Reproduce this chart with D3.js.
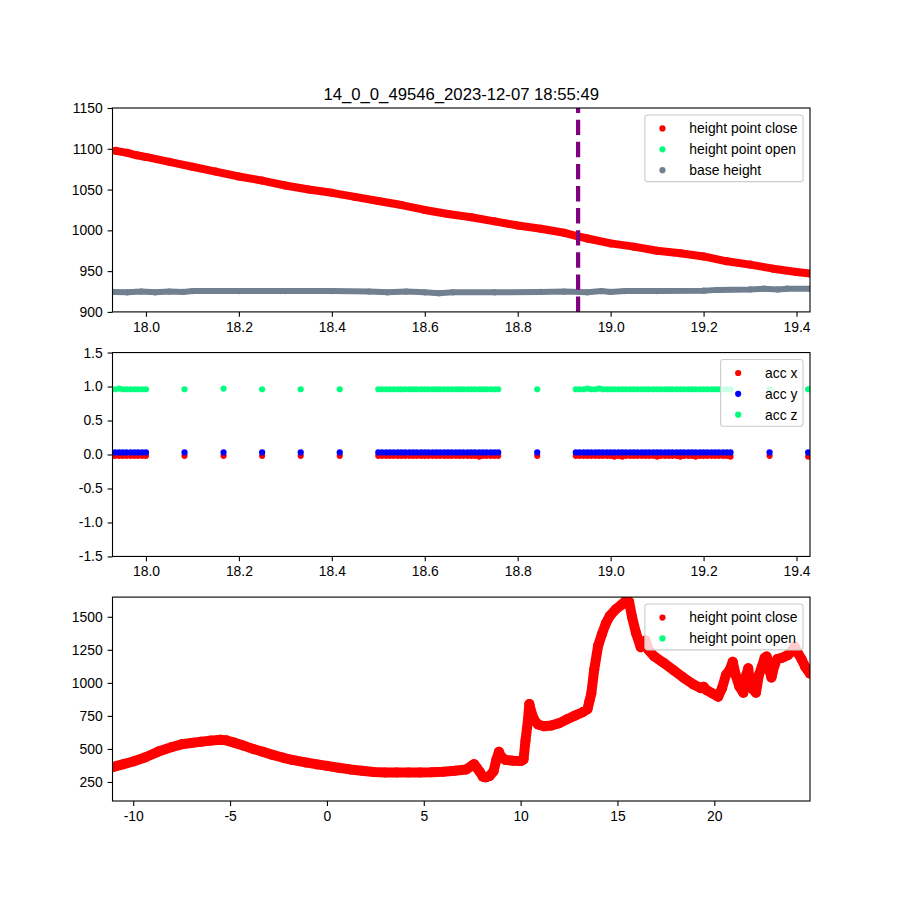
<!DOCTYPE html>
<html><head><meta charset="utf-8">
<script src="https://cdn.jsdelivr.net/npm/d3@7"></script>
<style>
body{margin:0;background:#fff}
svg{display:block}
text{font-family:"Liberation Sans",Arial,Helvetica,sans-serif;fill:#000}
</style>
</head><body><div id="chart"></div>
<script>
// ---------------- DATA ----------------
const chartTitle = "14_0_0_49546_2023-12-07 18:55:49";

// top panel
const topT   = [17.935,17.96,17.98,18.00,18.05,18.10,18.15,18.20,18.25,18.30,18.35,18.40,18.45,18.50,18.55,18.60,18.65,18.70,18.75,18.80,18.85,18.90,18.93,18.95,19.00,19.05,19.10,19.15,19.20,19.25,19.30,19.35,19.40,19.43];
const closeH = [1097.5,1095,1092,1090,1084,1078,1072,1066,1061,1055,1050,1046,1041,1036,1031,1025,1020,1016,1011,1006,1002,997,992.5,990,984,980,975,972,968,962,958,953,949,947];
const baseT  = [17.93,17.96,17.99,18.02,18.05,18.08,18.10,18.20,18.30,18.40,18.48,18.52,18.56,18.60,18.63,18.66,18.75,18.85,18.90,18.95,18.98,19.00,19.03,19.10,19.20,19.23,19.30,19.33,19.36,19.38,19.43];
const baseH  = [924.5,924,925,924,925,924.5,925.5,925.5,925.5,925.5,925,924,925,924,923,924,924,924.5,925,924,925.5,924.5,925.5,925.5,926,927,927.5,928.5,927.5,928.5,928.5];
const markerTime = 18.93;
const topYTicks  = [900,950,1000,1050,1100,1150];
const timeTicks  = [18.0,18.2,18.4,18.6,18.8,19.0,19.2,19.4];

// middle panel
const accT = [17.933,17.942,17.950,17.958,17.967,17.975,17.983,17.992,18.000,
  18.083,18.167,18.250,18.333,18.417,
  18.500,18.508,18.517,18.525,18.533,18.542,18.550,18.558,18.567,18.575,18.583,18.592,18.600,18.608,18.617,18.625,
  18.633,18.642,18.650,18.658,18.667,18.675,18.683,18.692,18.700,18.708,18.717,18.725,18.733,18.742,18.750,18.758,
  18.842,
  18.925,18.933,18.942,18.950,18.958,18.967,18.975,18.983,18.992,19.000,19.008,19.017,19.025,19.033,19.042,19.050,
  19.058,19.067,19.075,19.083,19.092,19.100,19.108,19.117,19.125,19.133,19.142,19.150,19.158,19.167,19.175,19.183,
  19.192,19.200,19.208,19.217,19.225,19.233,19.242,19.250,19.258,
  19.342,19.425];
const accX = [-0.02,-0.02,-0.02,-0.02,-0.02,-0.02,-0.02,-0.02,-0.02,
  -0.02,-0.02,-0.02,-0.02,-0.02,
  -0.02,-0.02,-0.02,-0.02,-0.02,-0.02,-0.02,-0.02,-0.02,-0.02,-0.02,-0.02,-0.02,-0.02,-0.02,-0.02,
  -0.02,-0.02,-0.02,-0.02,-0.02,-0.02,-0.02,-0.02,-0.02,-0.02,-0.03,-0.02,-0.02,-0.02,-0.02,-0.02,
  -0.02,
  -0.02,-0.02,-0.02,-0.02,-0.02,-0.02,-0.02,-0.02,-0.02,-0.02,-0.03,-0.02,-0.03,-0.02,-0.02,-0.02,
  -0.02,-0.02,-0.02,-0.02,-0.02,-0.03,-0.02,-0.02,-0.02,-0.02,-0.02,-0.03,-0.02,-0.02,-0.02,-0.03,
  -0.02,-0.02,-0.02,-0.02,-0.02,-0.02,-0.02,-0.02,-0.03,
  -0.02,-0.03];
const accY = [0.03,0.03,0.03,0.03,0.03,0.03,0.03,0.03,0.03,
  0.03,0.03,0.03,0.03,0.03,
  0.03,0.03,0.03,0.03,0.03,0.03,0.03,0.03,0.03,0.03,0.03,0.03,0.03,0.03,0.03,0.03,
  0.03,0.03,0.03,0.03,0.03,0.03,0.03,0.03,0.03,0.03,0.03,0.03,0.03,0.03,0.03,0.03,
  0.03,
  0.03,0.03,0.03,0.03,0.03,0.03,0.03,0.03,0.03,0.03,0.03,0.03,0.03,0.03,0.03,0.03,
  0.03,0.03,0.03,0.03,0.03,0.03,0.03,0.03,0.03,0.03,0.03,0.03,0.03,0.03,0.03,0.03,
  0.03,0.03,0.03,0.03,0.03,0.03,0.03,0.03,0.03,
  0.03,0.03];
const accZ = [0.96,0.97,0.96,0.96,0.96,0.96,0.96,0.96,0.96,
  0.96,0.97,0.96,0.96,0.96,
  0.96,0.96,0.96,0.96,0.96,0.96,0.96,0.96,0.96,0.96,0.96,0.96,0.96,0.96,0.96,0.96,
  0.96,0.96,0.96,0.96,0.96,0.96,0.96,0.96,0.96,0.96,0.96,0.96,0.96,0.96,0.96,0.96,
  0.96,
  0.96,0.96,0.96,0.97,0.96,0.96,0.97,0.96,0.96,0.96,0.96,0.96,0.96,0.96,0.96,0.96,
  0.96,0.96,0.96,0.96,0.96,0.96,0.96,0.96,0.96,0.96,0.96,0.96,0.96,0.96,0.96,0.96,
  0.96,0.96,0.96,0.96,0.96,0.96,0.96,0.96,0.96,
  0.96,0.96];
const accYTicks = [-1.5,-1.0,-0.5,0.0,0.5,1.0,1.5];

// bottom panel
const bottomT = [-11.07,-10.5,-10.0,-9.4,-8.7,-8.0,-7.5,-7.0,-6.5,-6.0,-5.5,-5.2,-4.8,-4.3,-3.8,-3.3,-2.8,-2.3,-1.8,-1.1,-0.5,0.0,0.6,1.2,1.8,2.4,3.0,3.6,4.2,4.8,5.4,6.0,6.6,7.2,7.5,7.6,7.75,7.9,8.05,8.2,8.4,8.6,8.75,8.88,9.0,9.2,9.6,10.0,10.15,10.25,10.38,10.45,10.55,10.7,10.9,11.2,11.6,12.0,12.4,12.8,13.2,13.45,13.55,13.65,13.8,14.0,14.2,14.4,14.6,14.9,15.2,15.45,15.6,15.75,15.95,16.2,16.45,16.6,16.9,17.4,17.9,18.4,18.9,19.3,19.45,19.6,19.9,20.2,20.4,20.6,20.8,20.95,21.1,21.3,21.5,21.65,21.75,21.85,22.0,22.15,22.3,22.45,22.6,22.7,22.8,22.95,23.1,23.25,23.5,23.8,24.0,24.15,24.3,24.5,24.7,24.94];
const bottomH = [362,385,405,435,480,515,535,545,555,563,570,565,548,525,500,478,455,435,417,398,383,372,358,345,335,326,322,321,321,322,323,328,335,345,375,385,355,325,290,285,295,330,420,478,440,418,410,408,420,560,720,840,780,720,685,672,678,695,725,752,778,800,860,920,1100,1280,1370,1450,1505,1555,1590,1625,1615,1500,1380,1270,1320,1250,1200,1150,1095,1040,990,960,970,945,920,895,960,1060,1100,1160,1060,970,925,1060,1110,990,950,925,1060,1120,1190,1200,1120,1040,1130,1180,1190,1210,1240,1275,1230,1180,1120,1070];
const bottomXTicks = [-10,-5,0,5,10,15,20];
const bottomYTicks = [250,500,750,1000,1250,1500];

const topLegend = ["height point close","height point open","base height"];
const midLegend = ["acc x","acc y","acc z"];
const botLegend = ["height point close","height point open"];

// ---------------- DRAWING ----------------
const RED = "#ff0000", GREEN = "#00ff7f", GREY = "#708090", BLUE = "#0000ff", PURPLE = "#800080";
const W = 900, H = 900;
const L = 112.5, R = 810, PH = 203.9;
const tops = [108, 352.55, 597.1];
const FS = 13.9;
const R_DOT = 3.1;

const svg = d3.select("#chart").append("svg").attr("width", W).attr("height", H);
svg.append("rect").attr("width", W).attr("height", H).attr("fill", "#fff");

function panel(idx, xDom, yDom, xTicks, yTicks, fx, fy) {
  const top = tops[idx];
  const x = d3.scaleLinear().domain(xDom).range([L, R]);
  const y = d3.scaleLinear().domain(yDom).range([top + PH, top]);
  const g = svg.append("g");
  const cid = "clip" + idx;
  svg.append("clipPath").attr("id", cid).append("rect")
    .attr("x", L).attr("y", top).attr("width", R - L).attr("height", PH);
  const marks = g.append("g").attr("clip-path", `url(#${cid})`);
  const ax = svg.append("g");
  const xa = ax.append("g").attr("transform", `translate(0,${top + PH})`)
    .call(d3.axisBottom(x).tickValues(xTicks).tickFormat(fx).tickSize(4.9).tickPadding(4.9).tickSizeOuter(0));
  const ya = ax.append("g").attr("transform", `translate(${L},0)`)
    .call(d3.axisLeft(y).tickValues(yTicks).tickFormat(fy).tickSize(4.9).tickPadding(4.9).tickSizeOuter(0));
  [xa, ya].forEach(a => {
    a.select(".domain").remove();
    a.selectAll("line").attr("stroke", "#000").attr("stroke-width", 1.1);
    a.selectAll("text").attr("font-size", FS).attr("font-family", '"Liberation Sans",Arial,sans-serif').attr("fill", "#000");
  });
  ax.append("rect").attr("x", L).attr("y", top).attr("width", R - L).attr("height", PH)
    .attr("fill", "none").attr("stroke", "#000").attr("stroke-width", 1.1);
  return {marks, x, y, top, ax};
}

function legend(top, items) {
  const g = svg.append("g");
  const pad = 5.56, handle = 27.8, htp = 11.1, ls = 6.95;
  const texts = items.map(it => g.append("text").attr("font-size", FS).text(it.label));
  const tw = d3.max(texts, t => t.node().getComputedTextLength());
  const bw = pad + handle + htp + tw + pad;
  const bh = 2 * pad + items.length * FS + (items.length - 1) * ls;
  const bx = R - 6.95 - bw, by = top + 6.95;
  g.insert("rect", ":first-child").attr("x", bx).attr("y", by).attr("width", bw).attr("height", bh)
    .attr("rx", 2.8).attr("fill", "#fff").attr("fill-opacity", 0.8)
    .attr("stroke", "#cccccc").attr("stroke-width", 1.1);
  items.forEach((it, i) => {
    const cy = by + pad + FS / 2 + 1 + i * (FS + ls);
    g.append("circle").attr("cx", bx + pad + 12).attr("cy", cy).attr("r", R_DOT).attr("fill", it.color);
    texts[i].attr("x", bx + pad + handle + htp).attr("y", cy).attr("dy", "0.35em");
  });
  g.raise();
}

// ---- top ----
const fmt1 = d => d.toFixed(1);
const p1 = panel(0, [17.928, 19.429], [900, 1150], timeTicks, topYTicks, fmt1, d => String(d));
const closePts = topT.map((t, i) => [t, closeH[i]]);
const basePts = baseT.map((t, i) => [t, baseH[i]]);
const line1 = d3.line().x(d => p1.x(d[0])).y(d => p1.y(d[1]));
p1.marks.append("path").attr("d", line1(basePts)).attr("fill", "none").attr("stroke", GREY)
  .attr("stroke-width", 6).attr("stroke-linejoin", "round").attr("stroke-linecap", "round");
p1.marks.selectAll("circle.b").data(basePts).join("circle").attr("class", "b")
  .attr("cx", d => p1.x(d[0])).attr("cy", d => p1.y(d[1])).attr("r", R_DOT).attr("fill", GREY);
p1.marks.append("path").attr("d", line1(closePts)).attr("fill", "none").attr("stroke", RED)
  .attr("stroke-width", 8).attr("stroke-linejoin", "round").attr("stroke-linecap", "round");
p1.marks.selectAll("circle.c").data(closePts).join("circle").attr("class", "c")
  .attr("cx", d => p1.x(d[0])).attr("cy", d => p1.y(d[1])).attr("r", R_DOT + 0.9).attr("fill", RED);
p1.marks.append("line").attr("x1", p1.x(markerTime)).attr("x2", p1.x(markerTime))
  .attr("y1", p1.top + PH).attr("y2", p1.top)
  .attr("stroke", PURPLE).attr("stroke-width", 4.2).attr("stroke-dasharray", "15.4 6.7");
p1.ax.raise();
svg.append("text").attr("x", (L + R) / 2).attr("y", 100).attr("text-anchor", "middle")
  .attr("font-size", 16.7).text(chartTitle);
legend(p1.top, [{label: topLegend[0], color: RED}, {label: topLegend[1], color: GREEN}, {label: topLegend[2], color: GREY}]);

// ---- middle ----
const p2 = panel(1, [17.928, 19.429], [-1.5, 1.5], timeTicks, accYTicks, fmt1, fmt1);
[[accX, RED], [accY, BLUE], [accZ, GREEN]].forEach(([vals, col]) => {
  p2.marks.append("g").selectAll("circle").data(accT.map((t, i) => [t, vals[i]])).join("circle")
    .attr("cx", d => p2.x(d[0])).attr("cy", d => p2.y(d[1])).attr("r", R_DOT).attr("fill", col);
});
p2.ax.raise();
legend(p2.top, [{label: midLegend[0], color: RED}, {label: midLegend[1], color: BLUE}, {label: midLegend[2], color: GREEN}]);

// ---- bottom ----
const p3 = panel(2, [-11.07, 24.94], [106, 1649], bottomXTicks, bottomYTicks, d => String(d), d => String(d));
const botPts = bottomT.map((t, i) => [t, bottomH[i]]);
const line3 = d3.line().x(d => p3.x(d[0])).y(d => p3.y(d[1]));
p3.marks.append("path").attr("d", line3(botPts)).attr("fill", "none").attr("stroke", RED)
  .attr("stroke-width", 10).attr("stroke-linejoin", "round").attr("stroke-linecap", "round");
p3.marks.selectAll("circle").data(botPts).join("circle")
  .attr("cx", d => p3.x(d[0])).attr("cy", d => p3.y(d[1])).attr("r", 5).attr("fill", RED);
p3.ax.raise();
legend(p3.top, [{label: botLegend[0], color: RED}, {label: botLegend[1], color: GREEN}]);
</script>
</body></html>
